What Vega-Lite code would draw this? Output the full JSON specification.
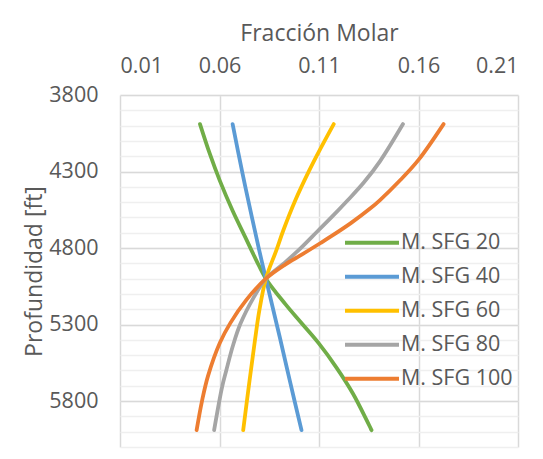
{
  "$schema": "https://vega.github.io/schema/vega-lite/v6.json",
  "width": 398,
  "height": 352,
  "autosize": {"type": "none"},
  "padding": {"left": 120, "top": 95, "right": 25, "bottom": 12},
  "background": "white",
  "config": {
    "view": {"stroke": null},
    "font": "Open Sans",
    "axis": {"labelColor": "#595959", "titleColor": "#595959", "titleFontWeight": "normal"}
  },
  "data": {
    "values": [
      {"serie": "M. SFG 20", "profundidad": 3990, "fraccion": 0.0502},
      {"serie": "M. SFG 20", "profundidad": 4187, "fraccion": 0.0552},
      {"serie": "M. SFG 20", "profundidad": 4361, "fraccion": 0.0602},
      {"serie": "M. SFG 20", "profundidad": 4556, "fraccion": 0.0666},
      {"serie": "M. SFG 20", "profundidad": 4730, "fraccion": 0.0730},
      {"serie": "M. SFG 20", "profundidad": 4880, "fraccion": 0.0785},
      {"serie": "M. SFG 20", "profundidad": 5000, "fraccion": 0.0833},
      {"serie": "M. SFG 20", "profundidad": 5165, "fraccion": 0.0930},
      {"serie": "M. SFG 20", "profundidad": 5295, "fraccion": 0.1015},
      {"serie": "M. SFG 20", "profundidad": 5425, "fraccion": 0.1100},
      {"serie": "M. SFG 20", "profundidad": 5578, "fraccion": 0.1186},
      {"serie": "M. SFG 20", "profundidad": 5752, "fraccion": 0.1271},
      {"serie": "M. SFG 20", "profundidad": 5990, "fraccion": 0.1364},
      {"serie": "M. SFG 40", "profundidad": 3990, "fraccion": 0.0666},
      {"serie": "M. SFG 40", "profundidad": 4296, "fraccion": 0.0713},
      {"serie": "M. SFG 40", "profundidad": 4600, "fraccion": 0.0763},
      {"serie": "M. SFG 40", "profundidad": 4817, "fraccion": 0.0800},
      {"serie": "M. SFG 40", "profundidad": 5000, "fraccion": 0.0833},
      {"serie": "M. SFG 40", "profundidad": 5252, "fraccion": 0.0879},
      {"serie": "M. SFG 40", "profundidad": 5383, "fraccion": 0.0903},
      {"serie": "M. SFG 40", "profundidad": 5665, "fraccion": 0.0953},
      {"serie": "M. SFG 40", "profundidad": 5990, "fraccion": 0.1012},
      {"serie": "M. SFG 60", "profundidad": 3990, "fraccion": 0.1174},
      {"serie": "M. SFG 60", "profundidad": 4144, "fraccion": 0.1110},
      {"serie": "M. SFG 60", "profundidad": 4296, "fraccion": 0.1050},
      {"serie": "M. SFG 60", "profundidad": 4491, "fraccion": 0.0980},
      {"serie": "M. SFG 60", "profundidad": 4687, "fraccion": 0.0920},
      {"serie": "M. SFG 60", "profundidad": 4817, "fraccion": 0.0885},
      {"serie": "M. SFG 60", "profundidad": 5000, "fraccion": 0.0833},
      {"serie": "M. SFG 60", "profundidad": 5209, "fraccion": 0.0800},
      {"serie": "M. SFG 60", "profundidad": 5404, "fraccion": 0.0778},
      {"serie": "M. SFG 60", "profundidad": 5665, "fraccion": 0.0751},
      {"serie": "M. SFG 60", "profundidad": 5990, "fraccion": 0.0719},
      {"serie": "M. SFG 80", "profundidad": 3990, "fraccion": 0.1522},
      {"serie": "M. SFG 80", "profundidad": 4230, "fraccion": 0.1408},
      {"serie": "M. SFG 80", "profundidad": 4372, "fraccion": 0.1325},
      {"serie": "M. SFG 80", "profundidad": 4491, "fraccion": 0.1242},
      {"serie": "M. SFG 80", "profundidad": 4600, "fraccion": 0.1162},
      {"serie": "M. SFG 80", "profundidad": 4687, "fraccion": 0.1095},
      {"serie": "M. SFG 80", "profundidad": 4817, "fraccion": 0.0995},
      {"serie": "M. SFG 80", "profundidad": 4904, "fraccion": 0.0920},
      {"serie": "M. SFG 80", "profundidad": 5000, "fraccion": 0.0833},
      {"serie": "M. SFG 80", "profundidad": 5122, "fraccion": 0.0772},
      {"serie": "M. SFG 80", "profundidad": 5295, "fraccion": 0.0705},
      {"serie": "M. SFG 80", "profundidad": 5440, "fraccion": 0.0667},
      {"serie": "M. SFG 80", "profundidad": 5600, "fraccion": 0.0634},
      {"serie": "M. SFG 80", "profundidad": 5708, "fraccion": 0.0613},
      {"serie": "M. SFG 80", "profundidad": 5990, "fraccion": 0.0573},
      {"serie": "M. SFG 100", "profundidad": 3990, "fraccion": 0.1726},
      {"serie": "M. SFG 100", "profundidad": 4224, "fraccion": 0.1600},
      {"serie": "M. SFG 100", "profundidad": 4354, "fraccion": 0.1510},
      {"serie": "M. SFG 100", "profundidad": 4485, "fraccion": 0.1408},
      {"serie": "M. SFG 100", "profundidad": 4539, "fraccion": 0.1360},
      {"serie": "M. SFG 100", "profundidad": 4637, "fraccion": 0.1260},
      {"serie": "M. SFG 100", "profundidad": 4729, "fraccion": 0.1154},
      {"serie": "M. SFG 100", "profundidad": 4767, "fraccion": 0.1108},
      {"serie": "M. SFG 100", "profundidad": 4843, "fraccion": 0.1013},
      {"serie": "M. SFG 100", "profundidad": 4908, "fraccion": 0.0930},
      {"serie": "M. SFG 100", "profundidad": 5000, "fraccion": 0.0833},
      {"serie": "M. SFG 100", "profundidad": 5137, "fraccion": 0.0736},
      {"serie": "M. SFG 100", "profundidad": 5289, "fraccion": 0.0655},
      {"serie": "M. SFG 100", "profundidad": 5419, "fraccion": 0.0602},
      {"serie": "M. SFG 100", "profundidad": 5637, "fraccion": 0.0542},
      {"serie": "M. SFG 100", "profundidad": 5800, "fraccion": 0.0512},
      {"serie": "M. SFG 100", "profundidad": 5990, "fraccion": 0.0485}
    ]
  },
  "layer": [
    {
      "mark": {"type": "line", "opacity": 0},
      "encoding": {
        "x": {"field": "fraccion", "type": "quantitative", "scale": {"domain": [0.01, 0.21], "nice": false, "zero": false}, "axis": null},
        "y": {
          "field": "profundidad", "type": "quantitative",
          "scale": {"domain": [3800, 6100], "reverse": true, "nice": false, "zero": false},
          "axis": {"orient": "left", "values": [3800, 3900, 4000, 4100, 4200, 4300, 4400, 4500, 4600, 4700, 4800, 4900, 5000, 5100, 5200, 5300, 5400, 5500, 5600, 5700, 5800, 5900, 6000, 6100],
            "grid": true, "gridColor": "#efefef", "gridWidth": 1.5, "labels": false, "ticks": false, "domain": false, "title": null}
        },
        "detail": {"field": "serie"},
        "order": {"field": "profundidad"}
      }
    },
    {
      "mark": {"type": "line", "strokeWidth": 3.8, "interpolate": "catmull-rom", "strokeCap": "round"},
      "encoding": {
        "x": {
          "field": "fraccion", "type": "quantitative",
          "scale": {"domain": [0.01, 0.21], "nice": false, "zero": false},
          "axis": {"orient": "top", "values": [0.01, 0.06, 0.11, 0.16, 0.21], "format": ".2f",
            "grid": true, "gridColor": "#d9d9d9", "gridWidth": 1.5, "domain": false, "ticks": false, "tickSize": 0,
            "labelFontSize": 21.5, "labelPadding": 18, "title": "Fracción Molar", "titleFontSize": 23, "titlePadding": 10}
        },
        "y": {
          "field": "profundidad", "type": "quantitative",
          "scale": {"domain": [3800, 6100], "reverse": true, "nice": false, "zero": false},
          "axis": {"orient": "left", "values": [3800, 4300, 4800, 5300, 5800], "format": "d",
            "grid": true, "gridColor": "#d9d9d9", "gridWidth": 1.5, "domain": false, "ticks": false, "tickSize": 0,
            "labelFontSize": 21.5, "labelPadding": 22, "title": "Profundidad [ft]", "titleFontSize": 23, "titlePadding": 2}
        },
        "color": {
          "field": "serie", "type": "nominal",
          "scale": {"domain": ["M. SFG 20", "M. SFG 40", "M. SFG 60", "M. SFG 80", "M. SFG 100"],
            "range": ["#70ad47", "#5b9bd5", "#ffc000", "#a5a5a5", "#ed7d31"]},
          "legend": {"title": null, "orient": "none", "legendX": 223, "legendY": 131,
            "symbolType": "stroke", "symbolSize": 2916, "symbolStrokeWidth": 4, "clipHeight": 33.3,
            "labelFontSize": 21.5, "labelColor": "#595959", "labelOffset": 0, "rowPadding": 0}
        },
        "order": {"field": "profundidad"}
      }
    }
  ],
  "resolve": {"axis": {"y": "independent", "x": "independent"}}
}
